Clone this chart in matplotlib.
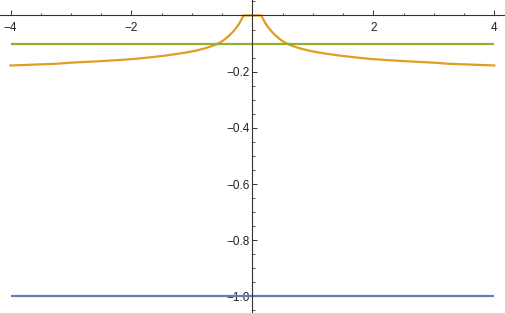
import numpy as np
import matplotlib
matplotlib.use("Agg")
from matplotlib import pyplot as plt
from matplotlib.ticker import MultipleLocator, FixedLocator

# values
x_range = [-4, 4]
blue_level = -1.0
green_level = -0.1

# orange curve, right half (mirrored for the left half); flat at 0 near the origin
orange_x_half = [0.0, 0.146, 0.18, 0.21, 0.25, 0.29, 0.33, 0.377, 0.43, 0.488, 0.55,
                 0.62, 0.71, 0.80, 0.95, 1.1, 1.28, 1.45, 1.61, 1.78, 1.94,
                 2.2, 2.5, 2.77, 3.0, 3.25, 3.5, 3.75, 4.0]
orange_y_half = [0.0, 0.0, -0.014, -0.026, -0.039, -0.050, -0.060, -0.070, -0.080, -0.090, -0.098,
                 -0.105, -0.112, -0.118, -0.126, -0.132, -0.138, -0.143, -0.147, -0.151, -0.1545,
                 -0.1585, -0.1625, -0.1655, -0.168, -0.172, -0.174, -0.176, -0.178]

x_major = [-4, -2, 2, 4]
y_major = [-0.2, -0.4, -0.6, -0.8, -1.0]

blue = "#5E81B5"
orange = "#E19C24"
green = "#8FB032"

plt.rcParams["font.family"] = ["Liberation Sans", "DejaVu Sans"]

fig = plt.figure(figsize=(5.05, 3.13), dpi=100)
ax = fig.add_axes([0, 0, 1, 1])

ox = np.concatenate([-np.array(orange_x_half[::-1]), np.array(orange_x_half[1:])])
oy = np.concatenate([np.array(orange_y_half[::-1]), np.array(orange_y_half[1:])])

ax.plot(x_range, [blue_level, blue_level], color=blue, lw=1.6, solid_capstyle="butt")
ax.plot(ox, oy, color=orange, lw=1.6, solid_joinstyle="round")
ax.plot(x_range, [green_level, green_level], color=green, lw=1.6, solid_capstyle="butt")

ax.set_xlim(-4.174, 4.177)
ax.set_ylim(-1.059, 0.055)

for s in ["top", "right"]:
    ax.spines[s].set_visible(False)
ax.spines["left"].set_position(("data", 0))
ax.spines["bottom"].set_position(("data", 0))
for s in ["left", "bottom"]:
    ax.spines[s].set_color("#333333")
    ax.spines[s].set_linewidth(0.8)
ax.patch.set_visible(False)

ax.xaxis.set_major_locator(FixedLocator(x_major))
ax.xaxis.set_minor_locator(MultipleLocator(0.5))
ax.yaxis.set_major_locator(FixedLocator(y_major))
ax.yaxis.set_minor_locator(MultipleLocator(0.05))
ax.set_xticklabels([str(v).replace("-", "\u2212") for v in x_major])
ax.set_yticklabels([("%.1f" % v).replace("-", "\u2212") for v in y_major])

ax.tick_params(axis="both", which="major", direction="in", length=3.4, width=0.7,
               color="#333333", labelsize=8.5, labelcolor="#222222")
ax.tick_params(axis="both", which="minor", direction="in", length=1.8, width=0.6,
               color="#333333")
ax.tick_params(axis="x", which="major", pad=5)
ax.tick_params(axis="y", which="major", pad=2)

fig.savefig("out.png", dpi=100)
